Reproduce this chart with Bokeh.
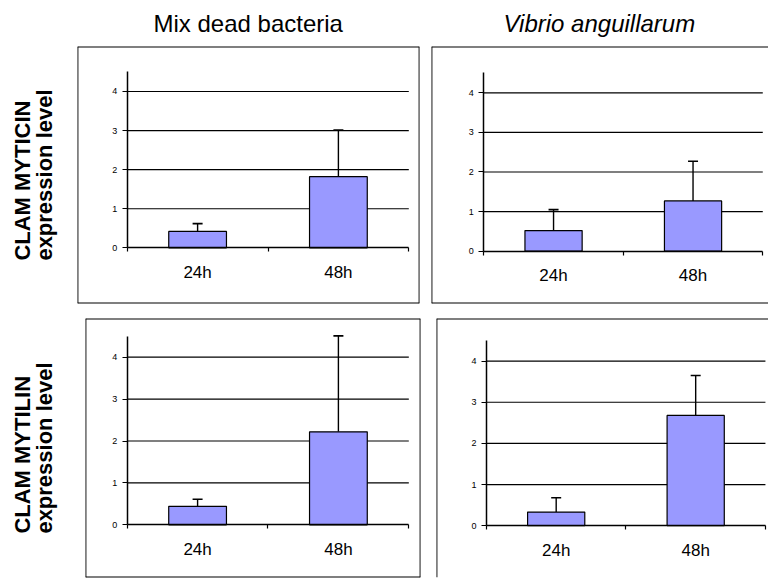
from bokeh.plotting import figure
from bokeh.models import (ColumnDataSource, LinearAxis, FixedTicker, Whisker, TeeHead,
                          Span, Title, Range1d, CustomJSTickFormatter)
from bokeh.layouts import column, row
from bokeh.embed import file_html
from bokeh.resources import INLINE

# ---------------- data ----------------
categories = ["24h", "48h"]
conditions = ["Mix dead bacteria", "Vibrio anguillarum"]
genes = ["CLAM MYTICIN", "CLAM MYTILIN"]
y_ticks = [0, 1, 2, 3, 4]

myticin_mix_mean = [0.42, 1.82]
myticin_mix_err = [0.20, 1.19]
myticin_vibrio_mean = [0.52, 1.27]
myticin_vibrio_err = [0.53, 1.00]
mytilin_mix_mean = [0.44, 2.22]
mytilin_mix_err = [0.17, 2.29]
mytilin_vibrio_mean = [0.33, 2.68]
mytilin_vibrio_err = [0.35, 0.97]

FONT = "Liberation Sans"
BAR = "#9999FF"


def panel(mean, err, width, height, mb, x_rng, y_rng, sides, title=None,
          italic=False, title_offset=0, gene=None, label_gap=0):
    p = figure(width=width, height=height, x_range=Range1d(*x_rng), y_range=Range1d(*y_rng),
               x_axis_type=None, y_axis_type=None, toolbar_location=None,
               output_backend="svg", min_border_left=mb[0], min_border_right=mb[1],
               min_border_top=mb[2], min_border_bottom=mb[3])
    p.background_fill_color = "white"
    p.border_fill_color = "white"
    p.outline_line_color = None
    n = len(categories)
    xs = [i + 0.5 for i in range(n)]

    # horizontal gridlines at the tick values
    gl = [t for t in y_ticks if t > 0]
    p.segment(x0=[0] * len(gl), x1=[n] * len(gl), y0=gl, y1=gl,
              line_color="black", line_width=1.2)

    src = ColumnDataSource(dict(x=xs, top=mean,
                                upper=[m + e for m, e in zip(mean, err)]))
    p.vbar(x="x", top="top", width=0.41, source=src, fill_color=BAR,
           line_color="black", line_width=1.2)
    p.add_layout(Whisker(source=src, base="x", lower="top", upper="upper",
                         dimension="height", line_color="black", line_width=1.4,
                         lower_head=None,
                         upper_head=TeeHead(size=10, line_color="black", line_width=1.6)))

    # y axis
    yax = LinearAxis(ticker=FixedTicker(ticks=y_ticks), fixed_location=0, bounds=(0, 4.5))
    yax.major_tick_out = 5
    yax.major_tick_in = 0
    yax.minor_tick_line_color = None
    yax.axis_line_width = 1.5
    yax.major_tick_line_width = 1.2
    yax.major_label_text_font = FONT
    yax.major_label_text_font_size = "9px"
    yax.major_label_text_color = "black"
    yax.major_label_standoff = 5
    p.add_layout(yax, "left")

    # x axis: boundary ticks
    xb = LinearAxis(ticker=FixedTicker(ticks=list(range(n + 1))), fixed_location=0,
                    bounds=(0, n))
    xb.major_tick_out = 4
    xb.major_tick_in = 0
    xb.minor_tick_line_color = None
    xb.axis_line_width = 1.5
    xb.major_tick_line_width = 1.2
    xb.major_label_text_color = None
    p.add_layout(xb, "below")

    # x axis: category labels
    xl = LinearAxis(ticker=FixedTicker(ticks=xs), fixed_location=0,
                    formatter=CustomJSTickFormatter(args=dict(labels=categories),
                                                    code="return labels[Math.floor(tick)]"))
    xl.axis_line_color = None
    xl.major_tick_line_color = None
    xl.minor_tick_line_color = None
    xl.major_tick_out = 0
    xl.major_tick_in = 0
    xl.major_label_standoff = 15
    xl.major_label_text_font = FONT
    xl.major_label_text_font_size = "17px"
    xl.major_label_text_color = "black"
    p.add_layout(xl, "below")

    # box border
    x0, x1 = x_rng
    y0, y1 = y_rng
    spans = {"top": (y1, "width"), "bottom": (y0, "width"),
             "left": (x0, "height"), "right": (x1, "height")}
    for s in sides:
        loc, dim = spans[s]
        p.add_layout(Span(location=loc, dimension=dim, line_color="black", line_width=1.8))

    if title is not None:
        # inner spacer keeps the column title clear of the box
        p.add_layout(Title(text=" ", text_font_size="1px", standoff=7), "above")
        p.title.text = title
        p.title.text_font = FONT
        p.title.text_font_size = "24px"
        p.title.text_font_style = "italic" if italic else "normal"
        p.title.text_color = "black"
        p.title.align = "left"
        p.title.offset = title_offset
        p.title.standoff = 0
    if gene is not None:
        p.add_layout(Title(text=" ", text_font_size="1px", standoff=label_gap), "left")
        p.add_layout(Title(text=gene + "\nexpression level", text_font=FONT,
                           text_font_size="22px", text_font_style="bold",
                           text_color="black", text_line_height=0.88,
                           align="center", standoff=0), "left")
    return p


tl = panel(myticin_mix_mean, myticin_mix_err, 425, 310, (77, 6, 46, 7),
           (-0.353, 2.076), (-1.425, 5.151), ("top", "bottom", "left", "right"),
           title=conditions[0], title_offset=76, gene=genes[0], label_gap=18)
tr = panel(myticin_vibrio_mean, myticin_vibrio_err, 343, 310, (6, 0, 46, 7),
           (-0.375, 2.041), (-1.321, 5.169), ("top", "bottom", "left"),
           title=conditions[1], italic=True, title_offset=72)
bl = panel(mytilin_mix_mean, mytilin_mix_err, 428, 268, (85, 8, 8, 1),
           (-0.296, 2.083), (-1.258, 4.924), ("top", "bottom", "left", "right"),
           gene=genes[1], label_gap=26)
br = panel(mytilin_vibrio_mean, mytilin_vibrio_err, 340, 268, (8, 0, 8, 0),
           (-0.358, 2.022), (-1.259, 5.036), ("top", "left"))

layout = column(row(tl, tr), row(bl, br))
open("out.html", "w").write(file_html(layout, INLINE))
